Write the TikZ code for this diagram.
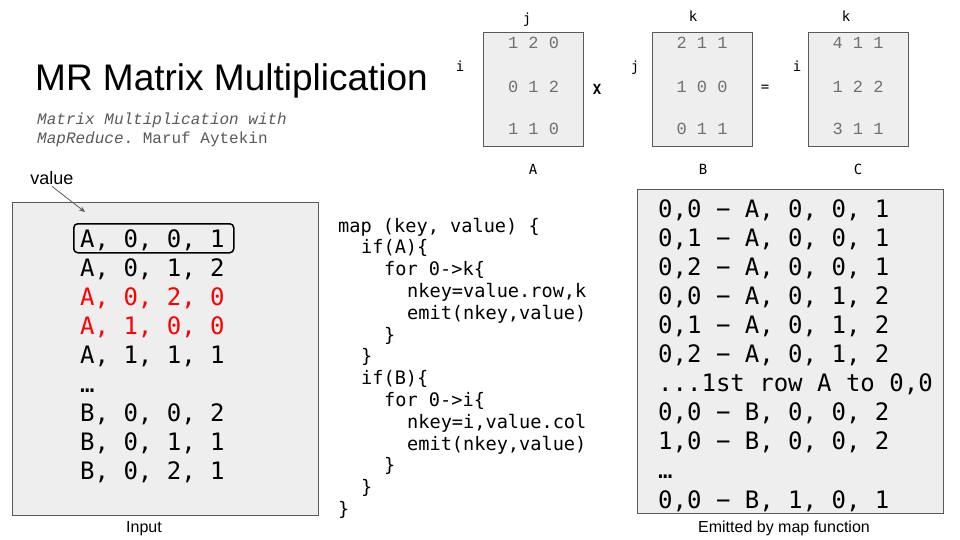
\documentclass[tikz,border=0pt]{standalone}
\usepackage{fontspec}
\setmainfont{Liberation Sans}
\newfontfamily\dvm{DejaVu Sans Mono}
\newfontfamily\lmono{Liberation Mono}
\usetikzlibrary{arrows.meta}
\definecolor{boxfill}{HTML}{EEEEEE}
\definecolor{boxline}{HTML}{595959}
\definecolor{subgray}{HTML}{595959}
\definecolor{diggray}{HTML}{707070}
\definecolor{hot}{HTML}{FF0000}
\frenchspacing
\tikzset{
  panel/.style={draw=boxline, fill=boxfill, line width=1.3pt, anchor=north west, inner sep=0},
  matbox/.style={draw=boxline, fill=boxfill, line width=0.9pt, anchor=north west, inner sep=0, minimum width=100pt, minimum height=114pt},
  bigmono/.style={font=\dvm\fontsize{24}{29}\selectfont, inner sep=0, anchor=base west},
  codeline/.style={font=\dvm\fontsize{18.6}{22}\selectfont, inner sep=0, anchor=base west},
  digits/.style={font=\lmono\fontsize{17}{20}\selectfont, text=diggray, inner sep=0, anchor=base},
  idx/.style={font=\dvm\fontsize{14}{16}\selectfont, inner sep=0, anchor=base},
  caption/.style={font=\fontsize{16}{19}\selectfont, inner sep=0, anchor=base},
}
\begin{document}
\begin{tikzpicture}[x=1pt,y=-1pt]
\useasboundingbox (0,0) rectangle (960,540);

% title
\node[inner sep=0, anchor=base west, font=\fontsize{37}{44}\selectfont] (title) at (35,91) {MR Matrix Multiplication};
\node[inner sep=0, anchor=base west, font=\lmono\itshape\fontsize{16}{19}\selectfont, text=subgray] (sub1) at (37,125) {Matrix Multiplication with};
\node[inner sep=0, anchor=base west, font=\lmono\fontsize{16}{19}\selectfont, text=subgray] (sub2) at (37,144) {{\itshape MapReduce}. Maruf Aytekin};

% matrices
\node[matbox] (matA) at (483,32) {};
\node[matbox] (matB) at (652,32) {};
\node[matbox] (matC) at (808,32) {};
\node[digits] (a1) at (533.5,49) {1 2 0};
\node[digits] (a2) at (533.5,93) {0 1 2};
\node[digits] (a3) at (533.5,135) {1 1 0};
\node[digits] (b1) at (702,49) {2 1 1};
\node[digits] (b2) at (702,93) {1 0 0};
\node[digits] (b3) at (702,135) {0 1 1};
\node[digits] (c1) at (858,49) {4 1 1};
\node[digits] (c2) at (858,93) {1 2 2};
\node[digits] (c3) at (858,135) {3 1 1};
\node[idx] (jA) at (527,24) {j};
\node[idx] (iA) at (460,72) {i};
\node[idx] (kB) at (693,22) {k};
\node[idx] (jB) at (635,72) {j};
\node[idx] (kC) at (846,22) {k};
\node[idx] (iC) at (797,72) {i};
\node[idx] (nA) at (533,175) {A};
\node[idx] (nB) at (703,175) {B};
\node[idx] (nC) at (858,175) {C};
\node[idx, font=\dvm\bfseries\fontsize{14}{16}\selectfont] (times) at (597,95) {X};
\node[idx, anchor=center] (eq) at (765,88) {=};

% input panel
\node[panel, minimum width=306pt, minimum height=313pt] (inbox) at (12,202) {};
\node[inner sep=1pt, anchor=base, font=\fontsize{18}{21}\selectfont] (value) at (52,185) {value};
\coordinate (vtip) at (85,212);
\draw[-{Stealth[length=6pt,width=5pt]}, draw=boxline, line width=0.8pt] (value.south) -- (vtip);
\node[draw=black, line width=1.5pt, rounded corners=4pt, anchor=north west, minimum width=160pt, minimum height=29pt, inner sep=0] (hl) at (73,223) {};
\node[bigmono] (in1) at (80,247) {A, 0, 0, 1};
\node[bigmono] (in2) at (80,276) {A, 0, 1, 2};
\node[bigmono, text=hot] (in3) at (80,305) {A, 0, 2, 0};
\node[bigmono, text=hot] (in4) at (80,334) {A, 1, 0, 0};
\node[bigmono] (in5) at (80,363) {A, 1, 1, 1};
\node[bigmono] (in6) at (80,392) {…};
\node[bigmono] (in7) at (80,421) {B, 0, 0, 2};
\node[bigmono] (in8) at (80,450) {B, 0, 1, 1};
\node[bigmono] (in9) at (80,479) {B, 0, 2, 1};
\node[caption] (inlab) at (144,532) {Input};

% code
\node[codeline] (m1) at (338,232) {map (key, value) \{};
\node[codeline] (m2) at (361,253.8) {if(A)\{};
\node[codeline] (m3) at (384,275.6) {for 0->k\{};
\node[codeline] (m4) at (407,297.4) {nkey=value.row,k};
\node[codeline] (m5) at (407,319.2) {emit(nkey,value)};
\node[codeline] (m6) at (384,341) {\}};
\node[codeline] (m7) at (361,362.8) {\}};
\node[codeline] (m8) at (361,384.6) {if(B)\{};
\node[codeline] (m9) at (384,406.4) {for 0->i\{};
\node[codeline] (m10) at (407,428.2) {nkey=i,value.col};
\node[codeline] (m11) at (407,450) {emit(nkey,value)};
\node[codeline] (m12) at (384,471.8) {\}};
\node[codeline] (m13) at (361,493.6) {\}};
\node[codeline] (m14) at (338,515.4) {\}};

% emitted panel
\node[panel, minimum width=306pt, minimum height=324pt] (outbox) at (637,189) {};
\node[bigmono] (o1) at (658,217) {0,0 − A, 0, 0, 1};
\node[bigmono] (o2) at (658,246.1) {0,1 − A, 0, 0, 1};
\node[bigmono] (o3) at (658,275.2) {0,2 − A, 0, 0, 1};
\node[bigmono] (o4) at (658,304.3) {0,0 − A, 0, 1, 2};
\node[bigmono] (o5) at (658,333.4) {0,1 − A, 0, 1, 2};
\node[bigmono] (o6) at (658,362.5) {0,2 − A, 0, 1, 2};
\node[bigmono] (o7) at (658,391.6) {...1st row A to 0,0};
\node[bigmono] (o8) at (658,420.7) {0,0 − B, 0, 0, 2};
\node[bigmono] (o9) at (658,449.8) {1,0 − B, 0, 0, 2};
\node[bigmono] (o10) at (658,478.9) {…};
\node[bigmono] (o11) at (658,508) {0,0 − B, 1, 0, 1};
\node[caption] (outlab) at (784,532) {Emitted by map function};
\end{tikzpicture}
\end{document}
